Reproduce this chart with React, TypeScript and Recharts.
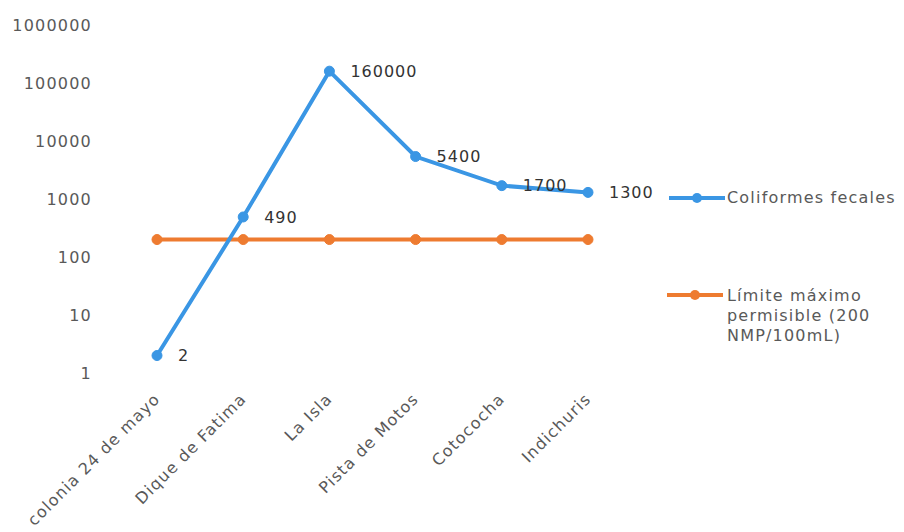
import React from "react";
import { LineChart, Line, XAxis, YAxis, Legend, LabelList } from "recharts";

const categories = ["colonia 24 de mayo", "Dique de Fatima", "La Isla", "Pista de Motos", "Cotococha", "Indichuris"];
const coliformes = [2, 490, 160000, 5400, 1700, 1300];
const limite = [200, 200, 200, 200, 200, 200];
const yTicks = [1, 10, 100, 1000, 10000, 100000, 1000000];
const seriesNames = ["Coliformes fecales", "Límite máximo permisible (200 NMP/100mL)"];
const legendLines = [["Coliformes fecales"], ["Límite máximo", "permisible (200", "NMP/100mL)"]];

const BLUE = "#3A96E4";
const ORANGE = "#EE7B30";
const FONT = "'DejaVu Sans', sans-serif";

const data = categories.map((c, i) => ({ name: c, coliformes: coliformes[i], limite: limite[i] }));

const XTick = (props: any) => {
  const { x, y, payload } = props;
  return (
    <g transform={`translate(${x + 4},${y + 27}) rotate(-45)`}>
      <text x={0} y={0} textAnchor="end" fill="#595959" fontSize={16} letterSpacing={1.2} fontFamily={FONT}>
        {payload.value}
      </text>
    </g>
  );
};

const LegendIcon = ({ color }: { color: string }) => (
  <svg width={60} height={12} style={{ display: "block" }}>
    <line x1={2} y1={6} x2={58} y2={6} stroke={color} strokeWidth={4} />
    <circle cx={30} cy={6} r={5} fill={color} />
  </svg>
);

const renderLegend = () => (
  <div style={{ position: "relative", width: 235, height: 200, fontFamily: FONT, fontSize: 16, letterSpacing: 1.2, color: "#595959" }}>
    <div style={{ position: "absolute", left: -2, top: 14 }}>
      <LegendIcon color={BLUE} />
    </div>
    <div style={{ position: "absolute", left: 58, top: 10, lineHeight: "20px", whiteSpace: "nowrap" }}>
      {legendLines[0].map((l) => (
        <div key={l}>{l}</div>
      ))}
    </div>
    <div style={{ position: "absolute", left: -4, top: 111 }}>
      <LegendIcon color={ORANGE} />
    </div>
    <div style={{ position: "absolute", left: 58, top: 108, lineHeight: "20px", whiteSpace: "nowrap" }}>
      {legendLines[1].map((l) => (
        <div key={l}>{l}</div>
      ))}
    </div>
  </div>
);

export default function App() {
  return (
    <LineChart width={896} height={524} data={data} margin={{ top: 17, right: 273, bottom: 0, left: 0 }}>
      <XAxis
        dataKey="name"
        axisLine={false}
        tickLine={false}
        tickSize={0}
        tickMargin={0}
        height={159}
        interval={0}
        padding={{ left: 43, right: 43 }}
        tick={<XTick />}
      />
      <YAxis
        scale="log"
        domain={[1, 1000000]}
        ticks={yTicks}
        allowDataOverflow
        axisLine={false}
        tickLine={false}
        tickSize={0}
        tickMargin={22}
        width={106}
        interval={0}
        tick={{ fill: "#595959", fontSize: 16, fontFamily: FONT, letterSpacing: 1.2 }}
      />
      <Legend
        layout="vertical"
        align="center"
        verticalAlign="middle"
        wrapperStyle={{ position: "absolute", left: 661, top: 170, width: 235, height: 200 }}
        content={renderLegend}
      />
      <Line
        type="linear"
        dataKey="limite"
        name={seriesNames[1]}
        stroke={ORANGE}
        strokeWidth={4}
        dot={{ r: 5, fill: ORANGE, stroke: ORANGE, strokeWidth: 1 }}
        isAnimationActive={false}
      />
      <Line
        type="linear"
        dataKey="coliformes"
        name={seriesNames[0]}
        stroke={BLUE}
        strokeWidth={4}
        dot={{ r: 5, fill: BLUE, stroke: BLUE, strokeWidth: 1 }}
        isAnimationActive={false}
      >
        <LabelList
          dataKey="coliformes"
          position="right"
          offset={21}
          fill="#333333"
          fontSize={16}
          fontFamily={FONT}
          letterSpacing={1}
        />
      </Line>
    </LineChart>
  );
}
